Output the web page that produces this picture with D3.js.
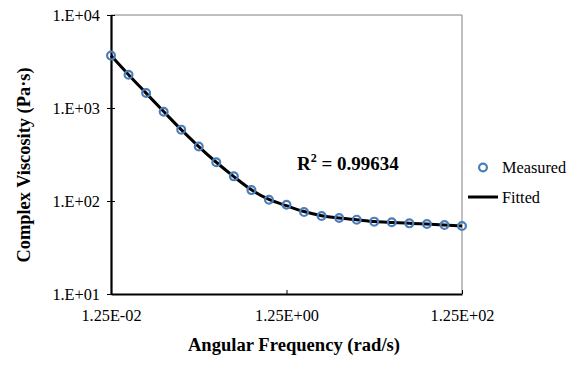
<!DOCTYPE html>
<html>
<head>
<meta charset="utf-8">
<script src="https://cdn.jsdelivr.net/npm/d3@7"></script>
<style>
  body { margin: 0; background: #fff; }
</style>
</head>
<body>
<svg id="chart" width="581" height="365"></svg>
<script>
// angular frequency (rad/s)
const frequency = [0.0125, 0.0198, 0.0314, 0.0498, 0.0789, 0.125, 0.198, 0.314, 0.498, 0.789,
                   1.25, 1.98, 3.14, 4.98, 7.89, 12.5, 19.8, 31.4, 49.8, 78.9, 125];
// complex viscosity (Pa·s)
const measured = [3660, 2275, 1450, 913, 585, 386, 261, 184, 131, 103,
                  91, 76, 69, 65.6, 63, 60, 59, 57.5, 56.5, 55.2, 53.8];
const fitted = [3660, 2280, 1445, 915, 585, 385, 261, 183, 132, 104,
                89, 77, 69.5, 65.5, 62.8, 60.2, 58.8, 57.6, 56.5, 55.3, 54];
const xTicks = [0.0125, 1.25, 125];
const yTicks = [10, 100, 1000, 10000];
const rSquared = "0.99634";

const FONT = 'Liberation Serif';
const svg = d3.select('#chart').attr('font-family', FONT);
const margin = { top: 15, right: 119, bottom: 71, left: 111 };
const W = 581, H = 365;

const x = d3.scaleLog().domain([0.0125, 125]).range([margin.left, W - margin.right]);
const y = d3.scaleLog().domain([10, 10000]).range([H - margin.bottom, margin.top]);

const expFmt = (v, digits) => {
    const e = Math.floor(Math.log10(v) + 1e-9);
    const m = v / Math.pow(10, e);
    const sign = e < 0 ? '-' : '+';
    return m.toFixed(digits) + (digits === 0 ? '.' : '') + 'E' + sign + String(Math.abs(e)).padStart(2, '0');
};

// top and right frame lines (thin gray)
svg.append('line')
    .attr('x1', x.range()[0]).attr('x2', x.range()[1])
    .attr('y1', y.range()[1]).attr('y2', y.range()[1])
    .attr('stroke', '#808080').attr('stroke-width', 1);
svg.append('line')
    .attr('x1', x.range()[1]).attr('x2', x.range()[1])
    .attr('y1', y.range()[0]).attr('y2', y.range()[1])
    .attr('stroke', '#808080').attr('stroke-width', 1);

// y axis
const yAxis = svg.append('g')
    .attr('transform', `translate(${margin.left},0)`)
    .call(d3.axisLeft(y).tickValues(yTicks).tickFormat(d => expFmt(d, 0)).tickSizeInner(4).tickSizeOuter(0))
    .attr('font-family', FONT).attr('font-size', 16.3);
yAxis.select('.domain').attr('stroke', '#000').attr('stroke-width', 2.2);
yAxis.selectAll('.tick line').attr('x2', 4).attr('x1', -4).attr('stroke', '#000').attr('stroke-width', 1);
yAxis.selectAll('.tick text')
    .attr('x', -11).attr('dy', '0.32em').attr('fill', '#000');

// x axis
const xAxis = svg.append('g')
    .attr('transform', `translate(0,${H - margin.bottom})`)
    .call(d3.axisBottom(x).tickValues(xTicks).tickFormat(d => expFmt(d, 2)).tickSizeInner(0).tickSizeOuter(0))
    .attr('font-family', FONT).attr('font-size', 16.3);
xAxis.select('.domain').attr('stroke', '#000').attr('stroke-width', 2.2);
xAxis.selectAll('.tick line').attr('y1', -4).attr('y2', 0).attr('stroke', '#000').attr('stroke-width', 1);
xAxis.selectAll('.tick text')
    .attr('y', 26.5).attr('dy', 0).attr('fill', '#000');

// axis titles
svg.append('text')
    .attr('x', 294).attr('y', 351)
    .attr('text-anchor', 'middle')
    .attr('font-family', FONT).attr('font-size', 18.6).attr('font-weight', 'bold')
    .text('Angular Frequency (rad/s)');
svg.append('text')
    .attr('transform', 'translate(30,165) rotate(-90)')
    .attr('text-anchor', 'middle')
    .attr('font-family', FONT).attr('font-size', 18.4).attr('font-weight', 'bold')
    .text('Complex Viscosity (Pa·s)');

// fitted curve
const pts = frequency.map((f, i) => ({ f, m: measured[i], fit: fitted[i] }));
svg.append('path')
    .datum(pts)
    .attr('fill', 'none').attr('stroke', '#000').attr('stroke-width', 3)
    .attr('d', d3.line().x(d => x(d.f)).y(d => y(d.fit)).curve(d3.curveMonotoneX));

// measured points
svg.selectAll('circle.meas')
    .data(pts)
    .join('circle')
    .attr('class', 'meas')
    .attr('cx', d => x(d.f)).attr('cy', d => y(d.m))
    .attr('r', 3.9)
    .attr('fill', 'none').attr('stroke', '#4A7EBB').attr('stroke-width', 2.2);

// R² annotation
const r2 = svg.append('text')
    .attr('x', 297).attr('y', 169.5)
    .attr('font-family', FONT).attr('font-size', 19).attr('font-weight', 'bold');
r2.append('tspan').text('R');
r2.append('tspan').attr('dy', -8).attr('font-size', 12).text('2');
r2.append('tspan').attr('dy', 8).text(' = ' + rSquared);

// legend
const legend = svg.append('g').attr('font-family', FONT).attr('font-size', 16.3);
legend.append('circle')
    .attr('cx', 483).attr('cy', 167.5).attr('r', 3.9)
    .attr('fill', 'none').attr('stroke', '#4A7EBB').attr('stroke-width', 2.2);
legend.append('text')
    .attr('x', 502).attr('y', 173)
    .text('Measured');
legend.append('line')
    .attr('x1', 468).attr('x2', 498).attr('y1', 197).attr('y2', 197)
    .attr('stroke', '#000').attr('stroke-width', 3);
legend.append('text')
    .attr('x', 502).attr('y', 203)
    .text('Fitted');
</script>
</body>
</html>
